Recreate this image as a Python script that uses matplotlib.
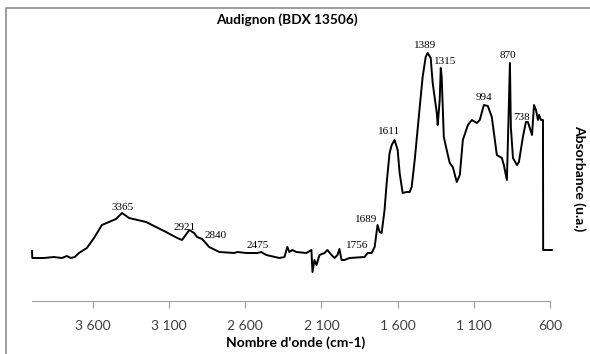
import matplotlib
matplotlib.use("Agg")
import matplotlib.pyplot as plt
from matplotlib.lines import Line2D
from matplotlib.ticker import FuncFormatter

plt.rcParams['font.family'] = ['Lato', 'DejaVu Sans']

# spectrum (wavenumber cm-1, absorbance a.u.)
wavenumber = [4000, 3998, 3922, 3857, 3804, 3771, 3745, 3719, 3692, 3640, 3593, 3541,
              3495, 3449, 3409, 3363, 3251, 3186, 3120, 3047, 3015, 2968, 2936, 2916,
              2883, 2837, 2771, 2672, 2653, 2593, 2521, 2495, 2462, 2376, 2343, 2324,
              2311, 2291, 2265, 2199, 2166, 2159, 2146, 2133, 2113, 2080, 2061, 2034,
              2014, 1995, 1982, 1968, 1949, 1916, 1817, 1797, 1771, 1751, 1732, 1718,
              1705, 1686, 1672, 1653, 1639, 1620, 1600, 1587, 1567, 1541, 1521, 1508,
              1488, 1455, 1436, 1416, 1403, 1383, 1370, 1343, 1337, 1324, 1317, 1311,
              1297, 1278, 1258, 1238, 1212, 1192, 1172, 1139, 1113, 1080, 1061, 1034,
              1008, 982, 962, 949, 916, 903, 883, 876, 863, 857, 843, 817, 804, 778,
              758, 745, 718, 705, 692, 679, 672, 659, 646, 645, 588]
absorbance = [0.200, 0.172, 0.172, 0.176, 0.172, 0.180, 0.172, 0.176, 0.192, 0.212, 0.252, 0.304,
              0.316, 0.328, 0.352, 0.332, 0.316, 0.296, 0.276, 0.252, 0.244, 0.284, 0.272, 0.256,
              0.248, 0.216, 0.196, 0.192, 0.196, 0.192, 0.192, 0.196, 0.184, 0.172, 0.176, 0.216,
              0.196, 0.204, 0.196, 0.192, 0.204, 0.116, 0.164, 0.144, 0.184, 0.192, 0.204, 0.184,
              0.172, 0.184, 0.208, 0.164, 0.164, 0.172, 0.176, 0.192, 0.192, 0.216, 0.304, 0.276,
              0.272, 0.364, 0.472, 0.592, 0.624, 0.644, 0.604, 0.512, 0.432, 0.436, 0.436, 0.456,
              0.564, 0.776, 0.896, 0.976, 0.992, 0.972, 0.872, 0.752, 0.704, 0.804, 0.932, 0.896,
              0.656, 0.604, 0.552, 0.536, 0.476, 0.504, 0.644, 0.704, 0.724, 0.712, 0.724, 0.784,
              0.780, 0.736, 0.644, 0.584, 0.572, 0.544, 0.484, 0.644, 0.952, 0.696, 0.572, 0.544,
              0.556, 0.656, 0.716, 0.716, 0.664, 0.784, 0.764, 0.724, 0.744, 0.724, 0.724, 0.204, 0.204]

# peak labels and where they sit
peak_labels = ['3365', '2921', '2840', '2475', '1756', '1689', '1611', '1389', '1315', '994', '870', '738']
label_x = [3403, 3001, 2797, 2521, 1863, 1804, 1659, 1422, 1291, 1034, 876, 784]
label_y = [0.376, 0.296, 0.260, 0.220, 0.220, 0.328, 0.676, 1.024, 0.956, 0.816, 0.980, 0.736]

xticks = [3600, 3100, 2600, 2100, 1600, 1100, 600]

fig = plt.figure(figsize=(5.9, 3.54), dpi=100)
ax = fig.add_axes([32/590, 1 - 301/354, 518/590, 270/354])

# grey frame round the chart (cut off on the right and bottom)
fig.add_artist(Line2D([6/590, 6/590, 1.0], [0.0, 1 - 8/354, 1 - 8/354],
                      transform=fig.transFigure, color='#8c8c8c', linewidth=1.2))

ax.plot(wavenumber, absorbance, color='black', linewidth=1.4, clip_on=False)
ax.set_xlim(4000, 600)
ax.set_ylim(0, 1.08)

for lab, x, y in zip(peak_labels, label_x, label_y):
    ax.text(x, y, lab, ha='center', va='center', fontsize=8, family='Liberation Serif')

for side in ['left', 'right', 'top']:
    ax.spines[side].set_visible(False)
ax.spines['bottom'].set_color('#a0a0a0')
ax.set_yticks([])
ax.set_xticks(xticks)
ax.xaxis.set_major_formatter(FuncFormatter(lambda v, p: f"{int(v):,}".replace(',', ' ')))
ax.tick_params(axis='x', colors='#a0a0a0', length=5, labelcolor='#404040', labelsize=10, pad=9)

fig.text(287/590, 1 - 20/354, 'Audignon (BDX 13506)', ha='center', va='center',
         fontsize=9.8, fontweight='bold')
fig.text(296/590, 1 - 343/354, "Nombre d'onde (cm-1)", ha='center', va='center',
         fontsize=10, fontweight='bold')
fig.text(579/590, 1 - 178/354, 'Absorbance (u.a.)', ha='center', va='center',
         rotation=-90, fontsize=10, fontweight='bold')

fig.savefig('out.png', dpi=100)
